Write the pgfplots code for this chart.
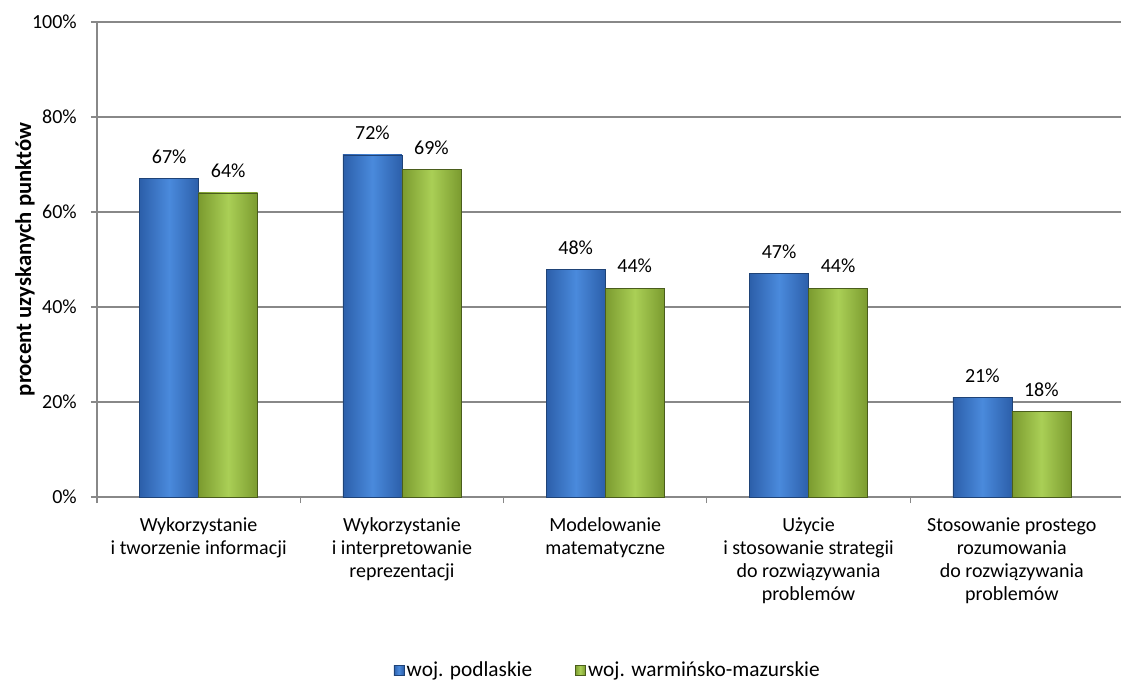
\documentclass[border=0pt]{standalone}
\usepackage{fontspec}
\setmainfont{Carlito}
\usepackage{pgfplots}
\pgfplotsset{compat=1.18}
\definecolor{bluemid}{HTML}{4A8ADC}
\definecolor{blueedge}{HTML}{2C5FAA}
\definecolor{greenmid}{HTML}{AACF56}
\definecolor{greenedge}{HTML}{7B9B2F}
\definecolor{gridgray}{HTML}{888888}
\newcommand{\chartfont}{\fontsize{15}{17.25}\selectfont}
\pgfplotsset{
  bluebar/.style={ybar, bar shift=-22.125pt, draw=blueedge!70!black, left color=blueedge, right color=blueedge, middle color=bluemid, every node near coord/.append style={xshift=-22.125pt}},
  greenbar/.style={ybar, bar shift=22.125pt, draw=greenedge!60!black, left color=greenedge, right color=greenedge, middle color=greenmid, every node near coord/.append style={xshift=22.125pt}},
}
\begin{document}
\begin{tikzpicture}
\begin{axis}[
  scale only axis,
  width=768pt, height=356.25pt,
  xmin=-0.5, xmax=4.537, ymin=0, ymax=100,
  /pgf/number format/assume math mode=true,
  axis x line*=bottom, axis y line*=left,
  axis line style={draw=gridgray, line width=0.9pt},
  ytick={0,20,...,100},
  yticklabel={\pgfmathprintnumber{\tick}\%},
  yticklabel style={font=\chartfont, anchor=east, inner sep=0pt, xshift=-10.5pt},
  ymajorgrids,
  grid style={draw=gridgray, line width=0.9pt},
  tick align=outside,
  major tick length=4.5pt,
  tick style={draw=gridgray, line width=0.9pt},
  xtick={-0.5,0.5,1.5,2.5,3.5},
  xticklabels={},
  extra x ticks={0,1,2,3,4},
  extra x tick labels={{Wykorzystanie\\i tworzenie informacji},{Wykorzystanie\\i interpretowanie\\reprezentacji},{Modelowanie\\matematyczne},{Użycie\\i stosowanie strategii\\do rozwiązywania\\problemów},{Stosowanie prostego\\rozumowania\\do rozwiązywania\\problemów}},
  extra x tick style={major tick length=0pt, xticklabel style={font=\chartfont, align=center, anchor=north, inner sep=0pt, yshift=-15pt}},
  ylabel={procent uzyskanych punktów},
  every axis y label/.style={at={(axis description cs:0,0.5)}, xshift=-54pt, rotate=90, anchor=center, font=\fontsize{17}{20}\selectfont\bfseries},
  bar width=44.25pt,
  nodes near coords={\pgfmathprintnumber{\pgfplotspointmeta}\%},
  nodes near coords style={font=\chartfont, anchor=base, inner sep=0pt, yshift=11.25pt, text=black},
  legend style={font=\fontsize{16}{19}\selectfont, draw=none, at={(axis description cs:0.499,-0.365)}, anchor=center, legend columns=-1, /tikz/every even column/.append style={column sep=30pt}},
  legend image code/.code={\draw[#1] (0pt,-3.5pt) rectangle (7.5pt,4pt);},
]
\addplot[bluebar] coordinates {(0,67)};
\addplot[greenbar] coordinates {(0,64)};
\addplot[bluebar, forget plot] coordinates {(1,72)};
\addplot[greenbar, forget plot] coordinates {(1,69)};
\addplot[bluebar, forget plot] coordinates {(2,48)};
\addplot[greenbar, forget plot] coordinates {(2,44)};
\addplot[bluebar, forget plot] coordinates {(3,47)};
\addplot[greenbar, forget plot] coordinates {(3,44)};
\addplot[bluebar, forget plot] coordinates {(4,21)};
\addplot[greenbar, forget plot] coordinates {(4,18)};
\legend{woj. podlaskie, woj. warmińsko-mazurskie}
\end{axis}
\pgfresetboundingbox
\useasboundingbox (-72.75pt,-138.75pt) rectangle (768pt,372.75pt);
\end{tikzpicture}
\end{document}
